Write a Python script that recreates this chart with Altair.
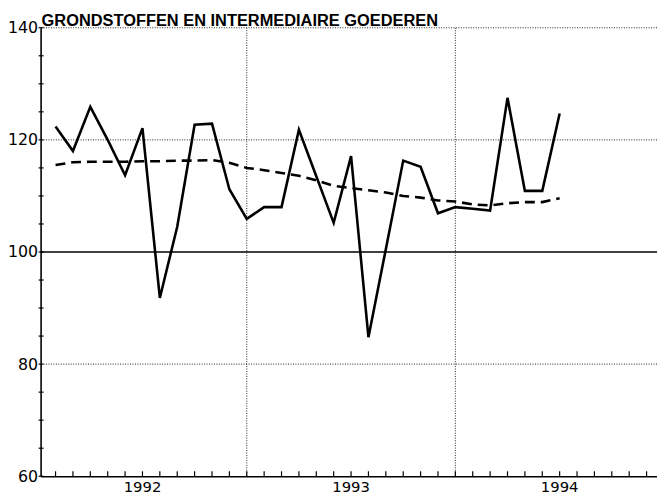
import altair as alt
import pandas as pd

TITLE = "GRONDSTOFFEN EN INTERMEDIAIRE GOEDEREN"

months = list(range(1, 31))
actual = [122.4, 118.0, 125.9, 120.0, 113.7, 122.1, 91.8, 104.5, 122.7, 122.9,
          111.2, 105.9, 108.0, 108.0, 121.8, 113.5, 105.2, 117.1, 84.8, 100.5,
          116.3, 115.2, 106.9, 108.0, 107.7, 107.4, 127.5, 110.9, 110.9, 124.7]
trend = [115.5, 116.0, 116.1, 116.1, 116.1, 116.2, 116.2, 116.3, 116.3, 116.4,
         115.9, 115.0, 114.6, 114.1, 113.6, 112.8, 111.8, 111.4, 111.0, 110.6,
         110.0, 109.7, 109.2, 109.0, 108.5, 108.3, 108.7, 108.9, 108.9, 109.6]

years = ["1992", "1993", "1994"]
year_mid = [6, 18, 30]
year_bounds = [12, 24]
grid_dotted = [80, 120, 140]
ref_line = [100]
y_labels = [60, 80, 100, 120, 140]
y_ticks = list(range(60, 141, 5))
x_ticks = list(range(1, 36))
x_domain = [0.14, 35.6]
y_domain = [60, 140]

W, H = 624, 454
FONT = "DejaVu Sans"

df = pd.DataFrame({"k": months, "actual": actual, "trend": trend})

xs = alt.Scale(domain=x_domain, nice=False, zero=False)
ys = alt.Scale(domain=y_domain, nice=False, zero=False)

xaxis = alt.Axis(labels=False, ticks=False, title=None, domainColor="black",
                 domainWidth=1.6, grid=False)
yaxis = alt.Axis(values=y_labels, title=None, ticks=False, labelPadding=3,
                 labelFont=FONT, labelFontSize=16, labelColor="black",
                 domainColor="black", domainWidth=1.6, grid=False)


def X(field):
    return alt.X(field, scale=xs, axis=xaxis)


def Y(field):
    return alt.Y(field, scale=ys, axis=yaxis)


hgrid = alt.Chart(pd.DataFrame({"v": grid_dotted})).mark_rule(
    color="#222", strokeWidth=1, strokeDash=[1, 1.5]
).encode(y=Y("v:Q"))

vgrid = alt.Chart(pd.DataFrame({"k": year_bounds})).mark_rule(
    color="#222", strokeWidth=1, strokeDash=[1, 1.5]
).encode(x=X("k:Q"))

ref = alt.Chart(pd.DataFrame({"v": ref_line})).mark_rule(
    color="black", strokeWidth=1.6
).encode(y=Y("v:Q"))

xt = alt.Chart(pd.DataFrame({"k": x_ticks})).mark_rule(
    color="black", strokeWidth=1.2
).encode(x=X("k:Q"), y=alt.value(H), y2=alt.value(H - 5))

yt = alt.Chart(pd.DataFrame({"v": y_ticks})).mark_rule(
    color="black", strokeWidth=1.2
).encode(y=Y("v:Q"), x=alt.value(-2), x2=alt.value(3))

trend_line = alt.Chart(df).mark_line(
    color="black", strokeWidth=2.6, strokeDash=[10, 6]
).encode(x=X("k:Q"), y=Y("trend:Q"))

actual_line = alt.Chart(df).mark_line(
    color="black", strokeWidth=2.6, strokeJoin="miter"
).encode(x=X("k:Q"), y=Y("actual:Q"))

year_labels = alt.Chart(pd.DataFrame({"k": year_mid, "label": years})).mark_text(
    font=FONT, fontSize=15, color="black", baseline="alphabetic", align="center"
).encode(x=X("k:Q"), y=alt.value(H + 16), text="label:N")

title = alt.Chart(pd.DataFrame({"t": [TITLE]})).mark_text(
    font="Liberation Sans", fontSize=16.6, fontWeight="bold", color="black",
    baseline="alphabetic", align="left"
).encode(x=alt.value(1), y=alt.value(-2), text="t:N")

chart = alt.layer(
    hgrid, vgrid, ref, xt, yt, trend_line, actual_line, year_labels, title
).properties(
    width=W, height=H,
    autosize=alt.AutoSizeParams(type="none"),
    padding={"left": 33, "top": 17, "right": 0, "bottom": 16},
).configure_view(stroke=None).configure_axis(grid=False)

chart.save("out.html", embed_options={"renderer": "svg", "actions": False})
